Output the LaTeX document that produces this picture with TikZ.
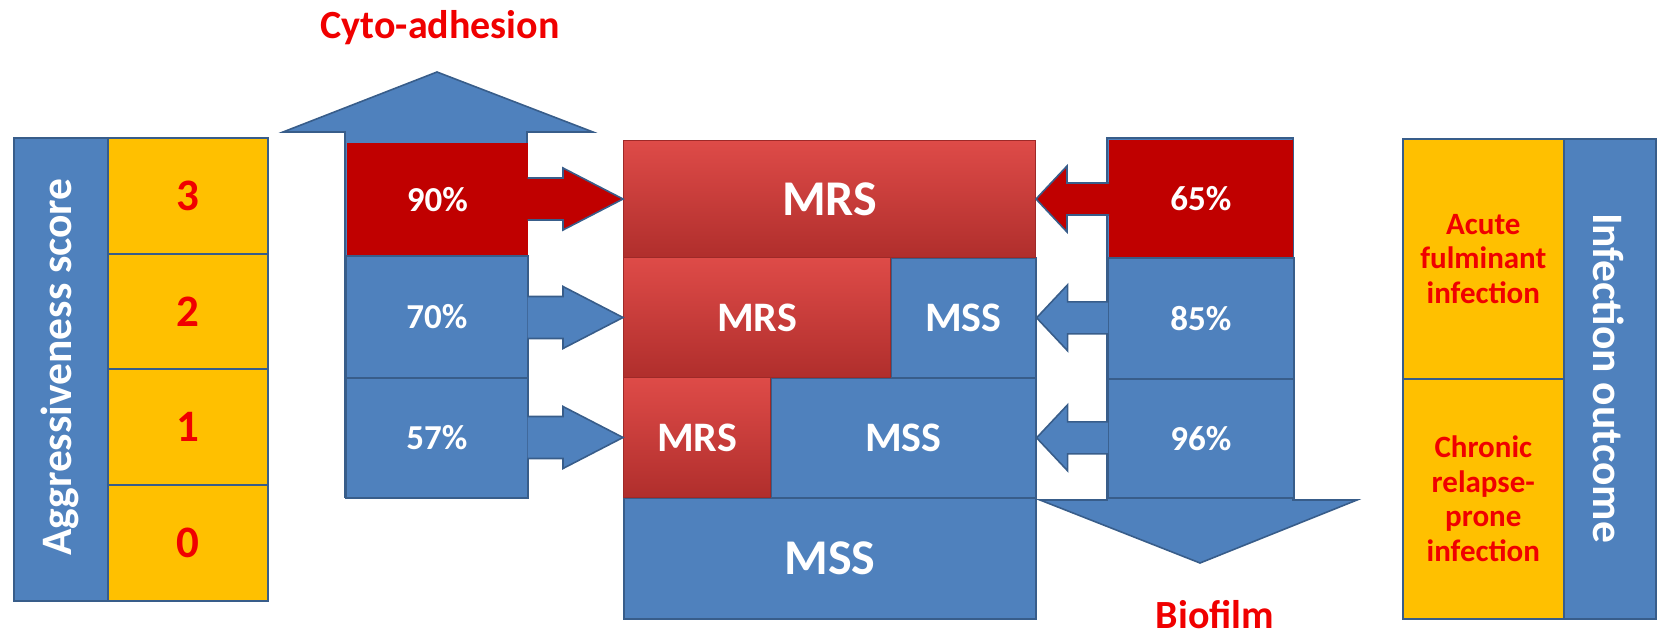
\documentclass[tikz,border=0pt]{standalone}
\usepackage{fontspec}
\setmainfont{Carlito}
\usetikzlibrary{calc}
\definecolor{bfill}{HTML}{4F81BD}
\definecolor{bline}{HTML}{385D8A}
\definecolor{yfill}{HTML}{FFC000}
\definecolor{rbox}{HTML}{C00000}
\definecolor{rtxt}{HTML}{F00000}
\definecolor{mtop}{HTML}{DE4B48}
\definecolor{mbot}{HTML}{B02E2C}
\newcommand{\fs}[1]{\fontsize{#1}{#1}\selectfont}
\begin{document}
\begin{tikzpicture}[x=1pt,y=-1pt,
  box/.style={draw=bline, line width=1.6pt, inner sep=0pt, anchor=north west, font=\bfseries, text=white},
  bluebox/.style={box, fill=bfill},
  yelbox/.style={box, fill=yfill, text=rtxt},
  redbox/.style={box, fill=rbox, draw=none},
  mrsbox/.style={box, top color=mtop, bottom color=mbot, draw=mbot!90!black, line width=1pt},
  blockarrow/.style={fill=bfill, draw=bline, line width=1.6pt, line join=miter},
  smallarrow/.style={draw=bline, line width=1.6pt, line join=miter},
  label/.style={font=\bfseries\fs{40}, text=rtxt, inner sep=0pt, anchor=base},
  pct/.style={font=\bfseries\fs{35}},
  big/.style={font=\bfseries\fs{50}},
  mid/.style={font=\bfseries\fs{42}},
  digit/.style={font=\bfseries\fs{45}},
  vtext/.style={font=\bfseries\fs{43.5}, text=white, inner sep=0pt},
  outc/.style={font=\bfseries\fontsize{31}{34.5}\selectfont, align=center}
]
\useasboundingbox (0,0) rectangle (1657,640);

% ---------- left panel ----------
\node[bluebox, minimum width=94pt, minimum height=463pt] (aggcol) at (13,137) {};
\node[vtext, rotate=90] (aggtxt) at (60,367) {Aggressiveness score};
\node[yelbox, digit, minimum width=160pt, minimum height=116pt] (s3) at (107,137) {3};
\node[yelbox, digit, minimum width=160pt, minimum height=115pt] (s2) at (107,253) {2};
\node[yelbox, digit, minimum width=160pt, minimum height=116pt] (s1) at (107,368) {1};
\node[yelbox, digit, minimum width=160pt, minimum height=116pt] (s0) at (107,484) {0};

% ---------- cyto-adhesion arrow ----------
\draw[blockarrow] (345,497) -- (345,132) -- (283,132) -- (437,72) -- (593,132) -- (527,132) -- (527,497) -- cycle;
\node[redbox, pct, minimum width=181pt, minimum height=113pt] (p90) at (346,142) {90\%};
\node[bluebox, pct, minimum width=182pt, minimum height=122pt] (p70) at (345,255) {70\%};
\node[bluebox, pct, minimum width=182pt, minimum height=120pt] (p57) at (345,377) {57\%};
\node[label] (cyto) at (440,38) {Cyto-adhesion};

% ---------- centre stack ----------
\node[bluebox, mid, minimum width=145pt, minimum height=120pt] (mss2) at (890,257) {MSS};
\node[bluebox, mid, minimum width=265pt, minimum height=120pt] (mss3) at (770,377) {MSS};
\node[bluebox, big, minimum width=412pt, minimum height=121pt] (mss4) at (623,497) {MSS};
\node[mrsbox, big, minimum width=412pt, minimum height=117pt] (mrs1) at (623,140) {MRS};
\node[mrsbox, mid, minimum width=267pt, minimum height=120pt] (mrs2) at (623,257) {MRS};
\node[mrsbox, mid, minimum width=147pt, minimum height=120pt] (mrs3) at (623,377) {MRS};

% ---------- biofilm arrow ----------
\draw[blockarrow] (1107,500) -- (1107,138) -- (1293,138) -- (1293,500) -- (1357,500) -- (1200,563) -- (1040,500) -- cycle;
\node[redbox, pct, minimum width=184pt, minimum height=118pt] (p65) at (1108,139) {65\%};
\node[bluebox, pct, minimum width=186pt, minimum height=121pt] (p85) at (1107,257) {85\%};
\node[bluebox, pct, minimum width=186pt, minimum height=119pt] (p96) at (1107,378) {96\%};
\node[label] (bio) at (1215,628) {Biofilm};

% ---------- small arrows: cyto-adhesion -> stack ----------
\foreach \a/\b/\c in {p90/mrs1/rbox, p70/mrs2/bfill, p57/mrs3/bfill}{
  \draw[smallarrow, fill=\c]
    ($(\a.east |- \b.west)+(-1,-21)$) -- ($(\b.west)+(-60,-21)$) -- ($(\b.west)+(-60,-31)$)
    -- (\b.west) -- ($(\b.west)+(-60,31)$) -- ($(\b.west)+(-60,21)$) -- ($(\a.east |- \b.west)+(-1,21)$);
}
% ---------- small arrows: biofilm -> stack ----------
\foreach \a/\b/\c in {p65/mrs1/rbox, p85/mss2/bfill, p96/mss3/bfill}{
  \draw[smallarrow, fill=\c]
    ($(\a.west |- \b.east)+(1,-16)$) -- ($(\b.east)+(31,-16)$) -- ($(\b.east)+(31,-33)$)
    -- (\b.east) -- ($(\b.east)+(31,33)$) -- ($(\b.east)+(31,16)$) -- ($(\a.west |- \b.east)+(1,16)$);
}

% ---------- right panel ----------
\node[bluebox, minimum width=92pt, minimum height=480pt] (outcol) at (1563,138) {};
\node[vtext, rotate=-90] (outtxt) at (1609,378) {Infection outcome};
\node[yelbox, outc, minimum width=161pt, minimum height=240pt] (acute) at (1402,138) {Acute\\fulminant\\infection};
\node[yelbox, outc, minimum width=161pt, minimum height=240pt] (chronic) at (1402,378) {Chronic\\relapse-\\prone\\infection};
\end{tikzpicture}
\end{document}
